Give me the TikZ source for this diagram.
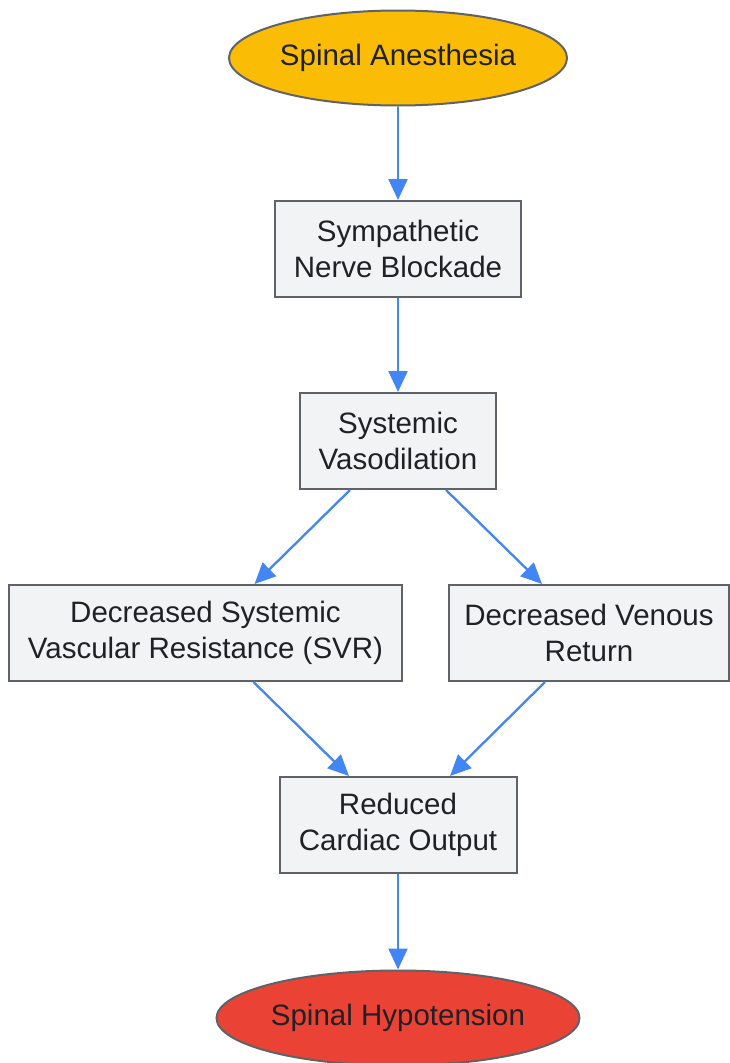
\documentclass[tikz,border=0pt]{standalone}
\usepackage{fontspec}
\setmainfont{Liberation Sans}
\usepackage{tikz}
\usetikzlibrary{arrows.meta}
\usetikzlibrary{shapes.geometric}

\definecolor{startcol}{HTML}{FBBC05}
\definecolor{endcol}{HTML}{EA4335}
\definecolor{boxfill}{HTML}{F1F3F4}
\definecolor{boxline}{HTML}{5F6368}
\definecolor{arrowcol}{HTML}{4285F4}
\definecolor{textcol}{HTML}{202124}

\begin{document}
\begin{tikzpicture}[x=1pt, y=-1pt,
    base/.style={draw=boxline, line width=2pt, text=textcol, align=center, inner sep=0pt,
        font=\fontsize{29.5}{36}\selectfont, minimum height=96pt},
    stepbox/.style={base, rectangle, fill=boxfill},
    oval/.style={base, ellipse, minimum height=95pt},
    flow/.style={draw=arrowcol, line width=2.3pt, -{Triangle[length=21pt,width=19pt]}}]
    \useasboundingbox (0,0) rectangle (729,1063);
    \def\mx{398}
    %% Nodes
    \node[oval, fill=startcol, minimum width=338pt] (anesthesia) at (\mx,58) {Spinal Anesthesia};
    \node[stepbox, minimum width=246pt] (blockade) at (\mx,249) {Sympathetic\\Nerve Blockade};
    \node[stepbox, minimum width=196pt] (vasodil) at (\mx,441) {Systemic\\Vasodilation};
    \node[stepbox, minimum width=393pt] (svr) at (205.5,633) {Decreased Systemic\\Vascular Resistance (SVR)};
    \node[stepbox, minimum width=280pt] (venous) at (589,633) {Decreased Venous\\Return};
    \node[stepbox, minimum width=237pt] (output) at (\mx,825) {Reduced\\Cardiac Output};
    \node[oval, fill=endcol, minimum width=363pt] (hypo) at (\mx,1018) {Spinal Hypotension};
    %% Arrows
    \draw[flow] (anesthesia) -- (blockade);
    \draw[flow] (blockade) -- (vasodil);
    \draw[flow] (vasodil.south west) ++(51,0) coordinate (vl) (vl) -- ([xshift=49pt]svr.north);
    \draw[flow] (vasodil.south east) ++(-51,0) coordinate (vr) (vr) -- ([xshift=-47pt]venous.north);
    \draw[flow] ([xshift=48pt]svr.south) -- ([xshift=-49pt]output.north);
    \draw[flow] ([xshift=-44pt]venous.south) -- ([xshift=52pt]output.north);
    \draw[flow] (output) -- (hypo);
\end{tikzpicture}
\end{document}
